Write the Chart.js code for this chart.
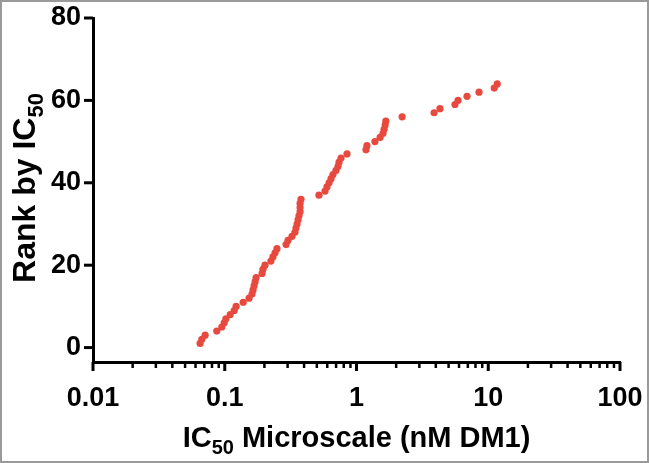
<!DOCTYPE html>
<html>
<head>
<meta charset="utf-8">
<script src="https://cdn.jsdelivr.net/npm/chart.js@4.4.1/dist/chart.umd.min.js"></script>
<style>
html,body{margin:0;padding:0;background:#fff;}
#wrap{width:649px;height:463px;position:relative;}
</style>
</head>
<body>
<div id="wrap"><canvas id="c" width="649" height="463"></canvas></div>
<script>
// Rank (y) of each cell line and its IC50 (x, nM DM1)
const ranks = [1,2,3,4,5,6,7,8,9,10,11,12,13,14,15,16,17,18,19,20,21,22,23,24,25,26,27,28,29,30,31,32,
  33,34,35,36,37,38,39,40,41,42,43,44,45,46,47,48,49,50,51,52,53,54,55,56,57,58,59,60,61,62,63,64];
const ic50 = [0.065,0.067,0.071,0.087,0.095,0.099,0.102,0.110,0.118,0.122,0.138,0.153,0.161,0.164,0.167,0.170,
  0.173,0.192,0.195,0.202,0.224,0.232,0.241,0.249,0.292,0.302,0.324,0.341,0.347,0.354,0.360,0.366,
  0.373,0.373,0.373,0.379,0.519,0.577,0.597,0.619,0.641,0.663,0.699,0.724,0.737,0.763,0.847,1.18,
  1.20,1.38,1.51,1.59,1.62,1.65,1.67,2.22,3.88,4.30,5.59,5.90,6.90,8.51,11.1,11.7];
const xTickValues = [0.01,0.1,1,10,100];
const xTickLabels = ['0.01','0.1','1','10','100'];
const yTickValues = [0,20,40,60,80];
const yTickLabels = ['0','20','40','60','80'];

const FONT = '"Liberation Sans", Arial, sans-serif';
const TICK_FONT = {family: FONT, size: 27, weight: 'bold'};
const X_TITLE_SIZE = 29;
const Y_TITLE_SIZE = 32;

function minorTicks(){
  const out=[];
  for(let d=0; d<xTickValues.length; d++){
    const base=xTickValues[d];
    out.push({v:base, major:true});
    if(d<xTickValues.length-1){ for(let k=2;k<=9;k++) out.push({v:base*k, major:false}); }
  }
  return out;
}

const frame = {
  id:'frame',
  afterDraw(chart){
    const ctx=chart.ctx, xs=chart.scales.x, ys=chart.scales.y;
    ctx.save();
    ctx.strokeStyle='#000'; ctx.lineCap='butt';
    const yAx = ys.getPixelForValue(ys.min);
    minorTicks().forEach(t=>{
      const px = xs.getPixelForValue(t.v);
      ctx.lineWidth = t.major?3:2.5;
      ctx.beginPath(); ctx.moveTo(px, yAx); ctx.lineTo(px, yAx + (t.major?9:6)); ctx.stroke();
    });
    const xAx = xs.getPixelForValue(xs.min);
    yTickValues.forEach(v=>{
      const py = ys.getPixelForValue(v);
      ctx.lineWidth=3;
      ctx.beginPath(); ctx.moveTo(xAx, py); ctx.lineTo(xAx-9, py); ctx.stroke();
    });
    ctx.fillStyle='#000';
    function drawSub(parts, cx, baseY, size){
      const big = 'bold '+size+'px '+FONT;
      const small = 'bold '+Math.round(size*0.68)+'px '+FONT;
      const off = Math.round(size*0.24);
      let w=0;
      parts.forEach(p=>{ctx.font=p.sub?small:big; w+=ctx.measureText(p.t).width;});
      let x=cx-w/2;
      ctx.textBaseline='alphabetic'; ctx.textAlign='left';
      parts.forEach(p=>{ctx.font=p.sub?small:big; ctx.fillText(p.t, x, baseY+(p.sub?off:0)); x+=ctx.measureText(p.t).width;});
    }
    const ca=chart.chartArea;
    drawSub([{t:'IC'},{t:'50',sub:true},{t:' Microscale (nM DM1)'}], (ca.left+ca.right)/2, 447, X_TITLE_SIZE);
    ctx.save();
    ctx.translate(35, (ca.top+ca.bottom)/2 - 2);
    ctx.rotate(-Math.PI/2);
    drawSub([{t:'Rank by IC'},{t:'50',sub:true}], 0, 0, Y_TITLE_SIZE);
    ctx.restore();
    ctx.strokeStyle='#9a9a9a'; ctx.lineWidth=2;
    ctx.strokeRect(1,1,647,461);
    ctx.restore();
  }
};

new Chart(document.getElementById('c'), {
  type:'scatter',
  data:{datasets:[{
    data: ranks.map((r,i)=>({x:ic50[i], y:r})),
    backgroundColor:'#E8493E', borderWidth:0, pointRadius:3.6, pointHoverRadius:3.6
  }]},
  options:{
    responsive:false, animation:false, devicePixelRatio:1,
    layout:{padding:{left:0, top:18, right:29, bottom:0}},
    plugins:{legend:{display:false}, tooltip:{enabled:false}},
    scales:{
      x:{
        type:'logarithmic', min:0.01, max:100, position:'bottom',
        grid:{display:false, drawTicks:false}, border:{display:true, width:3, color:'#000'},
        afterBuildTicks(s){ s.ticks = xTickValues.map(v=>({value:v, major:true})); },
        ticks:{autoSkip:false, maxRotation:0, color:'#000', font:TICK_FONT, padding:20,
          callback:(v,i)=>xTickLabels[i]},
        afterFit(s){ s.height = 463-362; s.paddingLeft=0; s.paddingRight=0; }
      },
      y:{
        type:'linear', min:-3.5, max:80,
        grid:{display:false, drawTicks:false}, border:{display:true, width:3, color:'#000'},
        afterBuildTicks(s){ s.ticks = yTickValues.map(v=>({value:v})); },
        ticks:{color:'#000', font:TICK_FONT, padding:12, callback:(v,i)=>yTickLabels[i]},
        afterFit(s){ s.width = 93; s.paddingTop=0; s.paddingBottom=0; }
      }
    }
  },
  plugins:[frame]
});
</script>
</body>
</html>
